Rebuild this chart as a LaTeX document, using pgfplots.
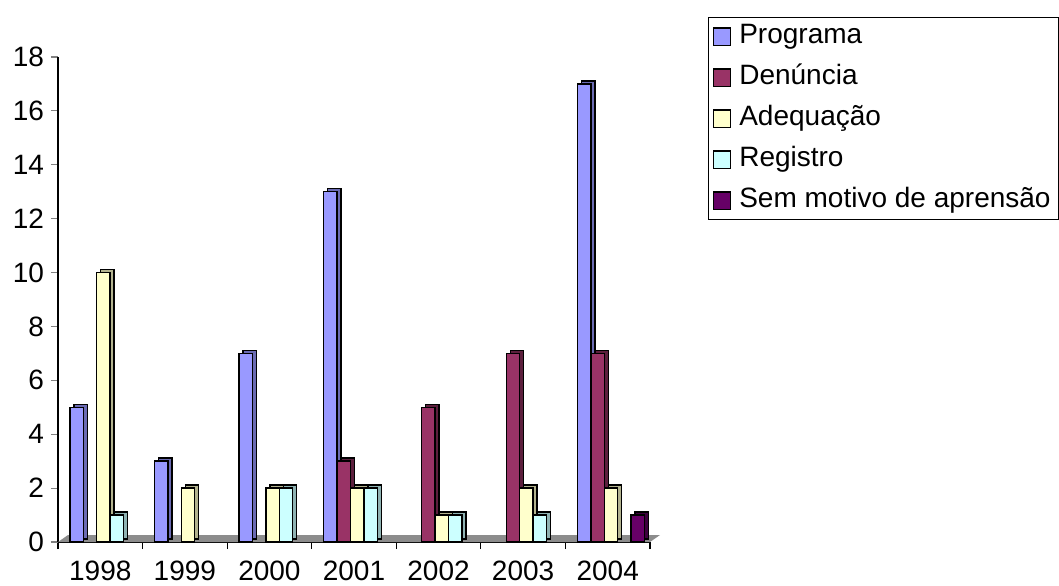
\documentclass[border=0pt]{standalone}
\usepackage{fontspec}
\setmainfont{Liberation Sans}
\usepackage{pgfplots}
\pgfplotsset{compat=1.18}
\definecolor{prog}{HTML}{9999FF}
\definecolor{progS}{HTML}{6B6BB3}
\definecolor{den}{HTML}{993366}
\definecolor{denS}{HTML}{5C1F3D}
\definecolor{adq}{HTML}{FFFFCC}
\definecolor{adqS}{HTML}{B3B38F}
\definecolor{reg}{HTML}{CCFFFF}
\definecolor{regS}{HTML}{8FB3B3}
\definecolor{sem}{HTML}{660066}
\definecolor{semS}{HTML}{3D003D}
\begin{document}
\begin{tikzpicture}
\useasboundingbox (-29pt,-21.5pt) rectangle (500.5pt,271pt);
\begin{axis}[
  scale only axis, width=296pt, height=242.5pt,
  at={(0,0)}, anchor=south west,
  clip=false,
  ybar, bar width=6.7pt,
  xmin=-0.5, xmax=6.5, ymin=0, ymax=18,
  ytick={0,2,...,18},
  xtick={-0.5,0.5,1.5,2.5,3.5,4.5,5.5,6.5},
  x tick label as interval,
  xticklabels={1998,1999,2000,2001,2002,2003,2004},
  axis x line*=bottom, axis y line*=left,
  axis line style={black, line width=0.6pt},
  tick align=outside,
  major tick length=3.5pt,
  ytick style={gray, line width=0.6pt},
  xtick style={black, line width=0.6pt},
  tick label style={font=\fontsize{14}{16}\selectfont},
  /pgf/number format/assume math mode=true,
  xticklabel style={yshift=-5.5pt, text depth=0pt, inner ysep=0.5pt},
  legend style={at={(1.098,1.082)}, anchor=north west, draw=black, line width=0.5pt,
    inner xsep=2pt, inner ysep=1pt, row sep=3.5pt, column sep=2pt,
    font=\fontsize{14}{16}\selectfont,
    nodes={inner sep=2pt, text height=10pt, text depth=3pt}},
  legend cell align=left,
  legend image code/.code={\draw[#1, draw=black, line width=0.8pt] (0pt,-4.3pt) rectangle (8.6pt,4.3pt);},
  every axis plot/.append style={draw=black, line width=0.7pt},
]
\fill[gray!90] (axis cs:-0.5,0) -- (axis cs:6.5,0) -- ++(5pt,3.5pt) -- ([xshift=5pt,yshift=3.5pt]axis cs:-0.5,0) -- cycle;
% side/top depth copies
\addplot[forget plot, bar shift=-11.8pt, fill=progS, xshift=2pt, yshift=1.5pt] coordinates {(0,5) (1,3) (2,7) (3,13) (6,17)};
\addplot[forget plot, bar shift=-5.1pt, fill=denS, xshift=2pt, yshift=1.5pt] coordinates {(3,3) (4,5) (5,7) (6,7)};
\addplot[forget plot, bar shift=1.6pt, fill=adqS, xshift=2pt, yshift=1.5pt] coordinates {(0,10) (1,2) (2,2) (3,2) (4,1) (5,2) (6,2)};
\addplot[forget plot, bar shift=8.3pt, fill=regS, xshift=2pt, yshift=1.5pt] coordinates {(0,1) (2,2) (3,2) (4,1) (5,1)};
\addplot[forget plot, bar shift=15pt, fill=semS, xshift=2pt, yshift=1.5pt] coordinates {(6,1)};
% front faces
\addplot[bar shift=-11.8pt, fill=prog] coordinates {(0,5) (1,3) (2,7) (3,13) (6,17)};
\addplot[bar shift=-5.1pt, fill=den] coordinates {(3,3) (4,5) (5,7) (6,7)};
\addplot[bar shift=1.6pt, fill=adq] coordinates {(0,10) (1,2) (2,2) (3,2) (4,1) (5,2) (6,2)};
\addplot[bar shift=8.3pt, fill=reg] coordinates {(0,1) (2,2) (3,2) (4,1) (5,1)};
\addplot[bar shift=15pt, fill=sem] coordinates {(6,1)};
\legend{Programa, Denúncia, Adequação, Registro, Sem motivo de aprensão}
\end{axis}
\end{tikzpicture}
\end{document}
